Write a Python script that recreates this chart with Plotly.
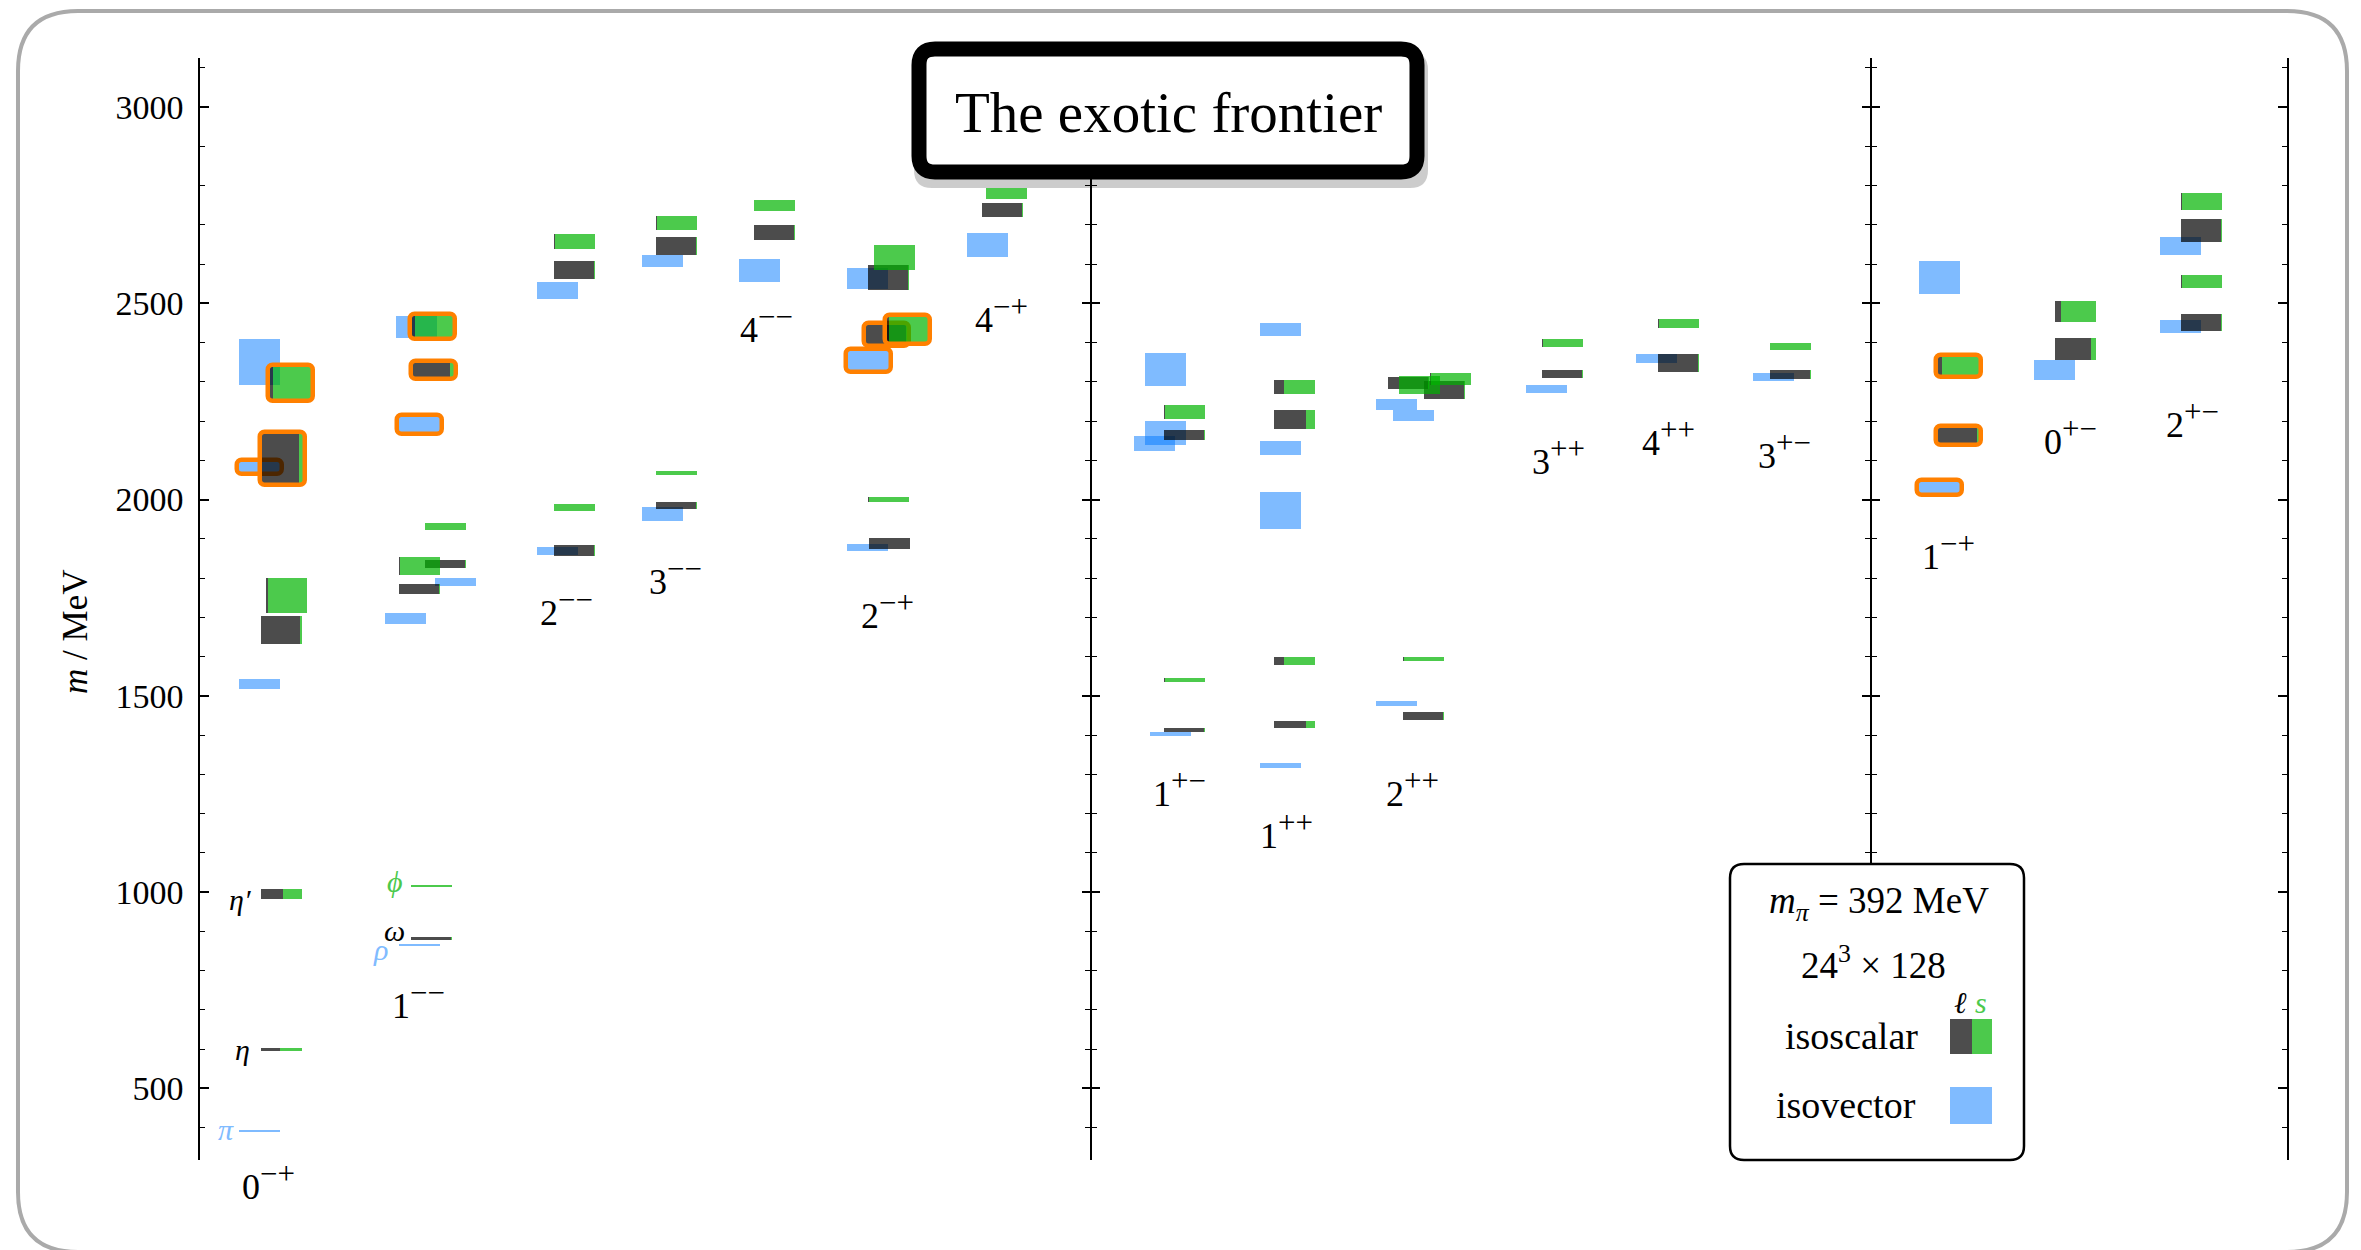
import plotly.graph_objects as go

# ---------------- data ----------------
COLUMNS = ["0-+", "1--", "2--", "3--", "4--", "2-+", "4-+",
           "1+-", "1++", "2++", "3++", "4++", "3+-",
           "1-+", "0+-", "2+-"]
COLUMN_BASE = ["0", "1", "2", "3", "4", "2", "4", "1", "1", "2", "3", "4", "3", "1", "0", "2"]
COLUMN_SUP = ["−+", "−−", "−−", "−−", "−−", "−+", "−+", "+−", "++", "++", "++", "++", "+−",
              "−+", "+−", "+−"]

# isovector states (MeV)
IV_COL = ["0-+"] * 4 + ["1--"] * 5 + ["2--"] * 2 + ["3--"] * 2 + ["4--"] + ["2-+"] * 3 + ["4-+"] \
    + ["1+-"] * 4 + ["1++"] * 4 + ["2++"] * 3 + ["3++"] + ["4++"] + ["3+-"] + ["1-+"] * 2 + ["0+-"] + ["2+-"] * 2
IV_MASS = [392, 1531, 2083, 2351, 866, 1698, 1791, 2192, 2440, 1869, 2533, 1963, 2608, 2584,
           1878, 2355, 2563, 2648, 1402, 2144, 2170, 2332, 1322, 1972, 2131, 2433,
           1480, 2243, 2214, 2282, 2359, 2312, 2031, 2565, 2330, 2441, 2646]
IV_ERR = [3, 13, 12, 58, 3, 14, 10, 19, 28, 9, 22, 17, 15, 29,
          10, 24, 27, 31, 5, 19, 31, 42, 6, 48, 17, 17,
          6, 14, 15, 11, 12, 11, 14, 42, 26, 17, 24]
IV_EXOTIC = [0, 0, 1, 0, 0, 0, 0, 1, 0, 0, 0, 0, 0, 0,
             0, 1, 0, 0, 0, 0, 0, 0, 0, 0, 0, 0,
             0, 0, 0, 0, 0, 0, 1, 0, 0, 0, 0]

# isoscalar states (MeV) with light-quark (ℓ) fraction
IS_COL = ["0-+"] * 6 + ["1--"] * 8 + ["2--"] * 4 + ["3--"] * 4 + ["4--"] * 2 + ["2-+"] * 6 + ["4-+"] * 2 \
    + ["1+-"] * 4 + ["1++"] * 4 + ["2++"] * 6 + ["3++"] * 2 + ["4++"] * 2 + ["3+-"] * 2 \
    + ["1-+"] * 2 + ["0+-"] * 2 + ["2+-"] * 4
IS_MASS = [599, 995, 1668, 1755, 2105, 2298,
           881, 1016, 1772, 1832, 1836, 1932, 2331, 2441,
           1870, 1980, 2585, 2658,
           1986, 2068, 2646, 2705,
           2680, 2749,
           1888, 2000, 2421, 2433, 2566, 2617,
           2738, 2780,
           1413, 1540, 2164, 2224,
           1426, 1588, 2204, 2286,
           1448, 1595, 2297, 2292, 2279, 2307,
           2320, 2400,
           2348, 2448,
           2318, 2391,
           2164, 2341,
           2384, 2480,
           2452, 2556, 2685, 2760]
IS_ERR = [3, 12, 35, 45, 63, 41,
          4, 3, 12, 23, 11, 9, 18, 27,
          14, 8, 23, 19,
          9, 6, 23, 17,
          19, 15,
          13, 7, 24, 31, 32, 32,
          18, 15,
          6, 5, 13, 18,
          9, 10, 25, 18,
          10, 5, 16, 22, 24, 16,
          11, 10,
          24, 12,
          11, 9,
          19, 23,
          28, 27,
          22, 16, 29, 21]
IS_LIGHT = [0.46, 0.54, 0.95, 0.04, 0.90, 0.08,
            0.98, 0.0, 0.97, 0.03, 0.98, 0.0, 0.91, 0.08,
            0.98, 0.0, 0.98, 0.02,
            0.98, 0.0, 0.98, 0.02,
            0.98, 0.0,
            0.99, 0.02, 0.97, 0.05, 0.97, 0.0,
            0.98, 0.0,
            0.98, 0.02, 0.98, 0.03,
            0.78, 0.25, 0.78, 0.25,
            0.98, 0.02, 0.98, 0.0, 0.98, 0.02,
            0.98, 0.02,
            0.98, 0.02,
            0.98, 0.0,
            0.94, 0.10,
            0.87, 0.14,
            0.98, 0.03, 0.97, 0.03]
IS_EXOTIC = [0, 0, 0, 0, 1, 1,
             0, 0, 0, 0, 0, 0, 1, 1,
             0, 0, 0, 0,
             0, 0, 0, 0,
             0, 0,
             0, 0, 1, 1, 0, 0,
             0, 0,
             0, 0, 0, 0,
             0, 0, 0, 0,
             0, 0, 0, 0, 0, 0,
             0, 0,
             0, 0,
             0, 0,
             1, 1,
             0, 0,
             0, 0, 0, 0]

GROUND_LABELS = ["π", "η", "η′", "ρ", "ω", "ϕ"]

TICK_VALUES = [500, 1000, 1500, 2000, 2500, 3000]

# ---------------- layout / positions (horizontal plot units) ----------------
IV_X = [39, 39, 39, 39, 199, 185, 235, 199, 196, 337, 337, 442, 442, 539,
        647, 648, 647, 767, 950, 934, 945, 945, 1060, 1060, 1060, 1060,
        1176, 1176, 1193, 1326, 1436, 1553, 1719, 1719, 1834, 1960, 1960]
IS_X = [61, 61, 61, 66, 62, 70,
        211, 211, 199, 199, 225, 225, 213, 212,
        354, 354, 354, 354,
        456, 456, 456, 456,
        554, 554,
        669, 668, 666, 687, 668, 674,
        782, 786,
        964, 964, 964, 964,
        1074, 1074, 1074, 1074,
        1203, 1203, 1188, 1199, 1224, 1230,
        1342, 1342,
        1458, 1458,
        1570, 1570,
        1738, 1738,
        1855, 1855,
        1981, 1981, 1981, 1981]
COL_LABEL_X = [68, 218, 366, 475, 566, 687, 801, 979, 1086, 1212, 1358, 1468, 1584, 1748, 1870, 1992]
COL_LABEL_M = [262, 725, 1724, 1805, 2445, 1717, 2471, 1265, 1156, 1265, 2109, 2157, 2124, 1869, 2160, 2203]
GROUND_X = [26, 42, 40, 180, 194, 195]
GROUND_M = [394, 598, 980, 853, 901, 1026]
GROUND_COLOR = ["#80bbff", "black", "black", "#80bbff", "black", "#4cc94c"]

OFF = 8                      # page body margin
W, H = 2361 - OFF, 1250 - OFF
ML, MR, MT, MB = 200 - OFF, 74, 58 - OFF, 90
PW, PH = W - ML - MR, H - MT - MB
X_RANGE = [0, PW]
Y_RANGE = [317.5, 3125]
BAR_W = 41
MEV_PER_PX = (Y_RANGE[1] - Y_RANGE[0]) / PH

BLUE = "rgba(0,119,255,0.5)"
DARK = "rgba(0,0,0,0.7)"
GREEN = "rgba(0,180,0,0.7)"
ORANGE = "#ff8000"
SERIF = "Liberation Serif"


# reference-pixel -> paper coordinates
def px_x(px):
    return (px - OFF - ML) / PW


def px_y(py):
    return (H - MB - (py - OFF)) / PH


def mev_to_paper(m):
    return (m - Y_RANGE[0]) / (Y_RANGE[1] - Y_RANGE[0])


def rrect(x0, y0, x1, y1, r):
    pts = [
        ("M", [(x0 + r, y0)]), ("L", [(x1 - r, y0)]), ("Q", [(x1, y0), (x1, y0 + r)]),
        ("L", [(x1, y1 - r)]), ("Q", [(x1, y1), (x1 - r, y1)]),
        ("L", [(x0 + r, y1)]), ("Q", [(x0, y1), (x0, y1 - r)]),
        ("L", [(x0, y0 + r)]), ("Q", [(x0, y0), (x0 + r, y0)]),
    ]
    s = ""
    for cmd, pl in pts:
        s += cmd + " ".join(f"{px_x(a):.5f},{px_y(b):.5f}" for a, b in pl) + " "
    return s + "Z"


fig = go.Figure()


def bar_trace(xc, widths, base, heights, color, line=None, radius=0):
    marker = dict(color=color, line=dict(width=0))
    if line:
        marker = dict(color="rgba(0,0,0,0)", line=dict(color=line, width=4.5), cornerradius=radius)
    return go.Bar(x=xc, width=widths, base=base, y=heights, marker=marker,
                  showlegend=False, hoverinfo="skip", orientation="v")


# isovector bars
fig.add_trace(bar_trace([x + BAR_W / 2 for x in IV_X], [BAR_W] * len(IV_X),
                        [m - e for m, e in zip(IV_MASS, IV_ERR)],
                        [2 * e for e in IV_ERR], BLUE))
# isovector outlines (exotic-highlighted)
padx, pady = 2, 2 * MEV_PER_PX
sel = [i for i, h in enumerate(IV_EXOTIC) if h]
fig.add_trace(bar_trace([IV_X[i] + BAR_W / 2 for i in sel], [BAR_W + 2 * padx] * len(sel),
                        [IV_MASS[i] - IV_ERR[i] - pady for i in sel],
                        [2 * IV_ERR[i] + 2 * pady for i in sel], None, line=ORANGE, radius=5))


def iso_parts(idx):
    dx, dw, gx, gw, b, h = [], [], [], [], [], []
    for i in idx:
        lw = BAR_W * IS_LIGHT[i]
        dx.append(IS_X[i] + lw / 2)
        dw.append(lw)
        gx.append(IS_X[i] + lw + (BAR_W - lw) / 2)
        gw.append(BAR_W - lw)
        b.append(IS_MASS[i] - IS_ERR[i])
        h.append(2 * IS_ERR[i])
    return dx, dw, gx, gw, b, h


plain = [i for i, h in enumerate(IS_EXOTIC) if not h]
dx, dw, gx, gw, b, h = iso_parts(plain)
fig.add_trace(bar_trace(dx, dw, b, h, DARK))
fig.add_trace(bar_trace(gx, gw, b, h, GREEN))

for i in [i for i, h in enumerate(IS_EXOTIC) if h]:
    dx, dw, gx, gw, b, h = iso_parts([i])
    fig.add_trace(bar_trace(dx, dw, b, h, DARK))
    fig.add_trace(bar_trace(gx, gw, b, h, GREEN))
    fig.add_trace(bar_trace([IS_X[i] + BAR_W / 2], [BAR_W + 2 * padx],
                            [IS_MASS[i] - IS_ERR[i] - pady], [2 * IS_ERR[i] + 2 * pady],
                            None, line=ORANGE, radius=5))

# dummy traces for the divider axes
for ax in ["y2", "y3", "y4", "y5"]:
    fig.add_trace(go.Scatter(x=[None], y=[None], yaxis=ax, showlegend=False, hoverinfo="skip"))

# column labels (J^PC); vertical position given in MeV, mapped to paper so labels
# below the axis range are still drawn
for base, sup, x, m in zip(COLUMN_BASE, COLUMN_SUP, COL_LABEL_X, COL_LABEL_M):
    fig.add_annotation(x=x, y=mev_to_paper(m), xref="x", yref="paper",
                       text=f'{base}<sup><span style="font-size:31px">{sup}</span></sup>',
                       showarrow=False, xanchor="center", yanchor="middle",
                       font=dict(family=SERIF, size=36, color="black"))
for t, x, m, c in zip(GROUND_LABELS, GROUND_X, GROUND_M, GROUND_COLOR):
    fig.add_annotation(x=x, y=m, xref="x", yref="y", text=f"<i>{t}</i>", showarrow=False,
                       xanchor="center", yanchor="middle",
                       font=dict(family=SERIF, size=30, color=c))

# y-axis title
fig.add_annotation(x=px_x(76), y=px_y(632), xref="paper", yref="paper",
                   text="<i>m</i> / MeV", textangle=-90, showarrow=False,
                   xanchor="center", yanchor="middle",
                   font=dict(family=SERIF, size=35, color="black"))

shapes = []
# slide frame
shapes.append(dict(type="path", path=rrect(18, 11, 2347, 1252, 60), xref="paper", yref="paper",
                   line=dict(color="#aaaaaa", width=4), layer="below"))
# title box shadow + box
shapes.append(dict(type="path", path=rrect(914, 52, 1428, 188, 18), xref="paper", yref="paper",
                   fillcolor="rgba(0,0,0,0.2)", line=dict(width=0), layer="above"))
shapes.append(dict(type="path", path=rrect(919, 49, 1417, 172, 16), xref="paper", yref="paper",
                   fillcolor="white", line=dict(color="black", width=15), layer="above"))
# legend box
shapes.append(dict(type="path", path=rrect(1730, 864, 2024, 1160, 14), xref="paper", yref="paper",
                   fillcolor="white", line=dict(color="black", width=2.5), layer="above"))
shapes.append(dict(type="rect", x0=px_x(1950), x1=px_x(1972), y0=px_y(1054), y1=px_y(1019),
                   xref="paper", yref="paper", fillcolor="#4d4d4d", line=dict(width=0), layer="above"))
shapes.append(dict(type="rect", x0=px_x(1972), x1=px_x(1992), y0=px_y(1054), y1=px_y(1019),
                   xref="paper", yref="paper", fillcolor="#4cc94c", line=dict(width=0), layer="above"))
shapes.append(dict(type="rect", x0=px_x(1950), x1=px_x(1992), y0=px_y(1124), y1=px_y(1087),
                   xref="paper", yref="paper", fillcolor="#80bbff", line=dict(width=0), layer="above"))
fig.update_layout(shapes=shapes)

fig.add_annotation(x=px_x(1168), y=px_y(112), xref="paper", yref="paper",
                   text="The exotic frontier", showarrow=False,
                   xanchor="center", yanchor="middle",
                   font=dict(family=SERIF, size=57, color="black"))

legend_texts = [
    ("<i>m</i><sub><i>π</i></sub> = 392 MeV", 1879, 903, 37, "black"),
    ("24<sup>3</sup> × 128", 1873, 962, 37, "black"),
    ("isoscalar", 1851, 1036, 38, "black"),
    ("isovector", 1846, 1105, 38, "black"),
    ("<i>ℓ</i>", 1960, 1002, 30, "black"),
    ("<i>s</i>", 1981, 1002, 30, "#4cc94c"),
]
for t, x, y, s, c in legend_texts:
    fig.add_annotation(x=px_x(x), y=px_y(y), xref="paper", yref="paper", text=t,
                       showarrow=False, xanchor="center", yanchor="middle",
                       font=dict(family=SERIF, size=s, color=c))

axis_common = dict(range=Y_RANGE, showgrid=False, zeroline=False, showline=True,
                   linecolor="black", linewidth=1.6, tickcolor="black", tickwidth=1.6,
                   dtick=500, tick0=0)
minor_in = dict(ticks="inside", dtick=100, tick0=0, ticklen=5, tickcolor="black", tickwidth=1.4)
minor_out = dict(ticks="outside", dtick=100, tick0=0, ticklen=5, tickcolor="black", tickwidth=1.4)

fig.update_layout(
    width=W, height=H,
    margin=dict(l=ML, r=MR, t=MT, b=MB),
    paper_bgcolor="white", plot_bgcolor="white",
    barmode="overlay", bargap=0,
    xaxis=dict(range=X_RANGE, visible=False),
    yaxis=dict(**axis_common, ticks="inside", ticklen=9, mirror="ticks",
               tickvals=TICK_VALUES, ticktext=[str(v) for v in TICK_VALUES],
               tickfont=dict(family=SERIF, size=34, color="black"),
               ticklabelstandoff=8, minor=minor_in),
    yaxis2=dict(**axis_common, overlaying="y", anchor="free", position=px_x(1091),
                ticks="inside", ticklen=8, showticklabels=False, minor=minor_in),
    yaxis3=dict(**axis_common, overlaying="y", anchor="free", position=px_x(1091),
                ticks="outside", ticklen=8, showticklabels=False, minor=minor_out),
    yaxis4=dict(**axis_common, overlaying="y", anchor="free", position=px_x(1871),
                ticks="inside", ticklen=8, showticklabels=False, minor=minor_in),
    yaxis5=dict(**axis_common, overlaying="y", anchor="free", position=px_x(1871),
                ticks="outside", ticklen=8, showticklabels=False, minor=minor_out),
)

fig.write_html("out.html")
